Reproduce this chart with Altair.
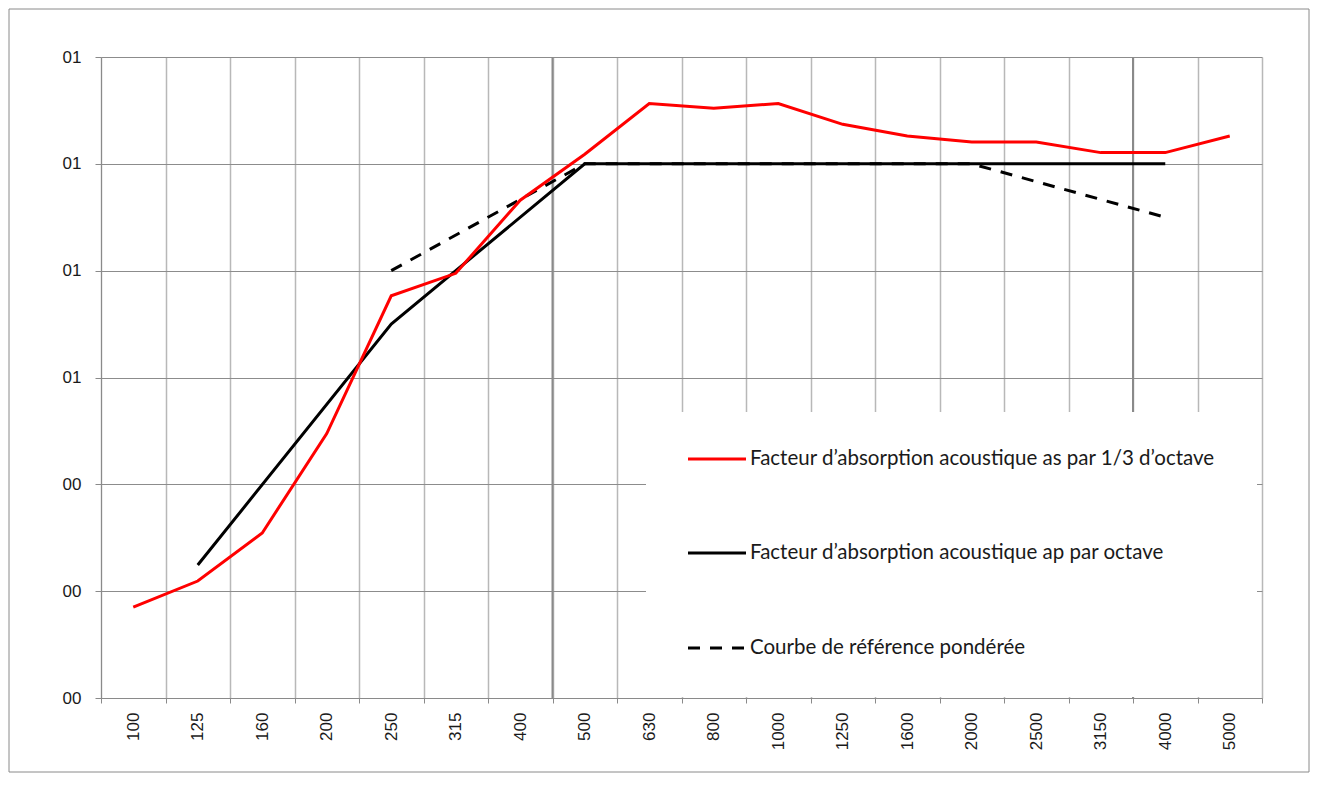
import altair as alt
import pandas as pd

# ---- data ----
freqs = ["100", "125", "160", "200", "250", "315", "400", "500", "630",
         "800", "1000", "1250", "1600", "2000", "2500", "3150", "4000", "5000"]
alpha_s = [0.170, 0.219, 0.309, 0.495, 0.753, 0.795, 0.932, 1.018, 1.113,
           1.104, 1.113, 1.074, 1.052, 1.041, 1.041, 1.021, 1.021, 1.052]
oct_freqs = ["125", "250", "500", "1000", "2000", "4000"]
alpha_p = [0.249, 0.700, 1.0, 1.0, 1.0, 1.0]
ref_freqs = ["250", "500", "1000", "2000", "4000"]
ref_vals = [0.8, 1.0, 1.0, 1.0, 0.9]
y_ticks = [0, 0.2, 0.4, 0.6, 0.8, 1.0, 1.2]
emph_freqs = ["500", "4000"]
legend_labels = [
    "Facteur d\u2019absorption acoustique as par 1/3 d\u2019octave",
    "Facteur d\u2019absorption acoustique ap par octave",
    "Courbe de r\u00e9f\u00e9rence pond\u00e9r\u00e9e",
]

df_s = pd.DataFrame({"freq": freqs, "v": alpha_s})
df_p = pd.DataFrame({"freq": oct_freqs, "v": alpha_p})
df_r = pd.DataFrame({"freq": ref_freqs, "v": ref_vals})
df_e = pd.DataFrame({"freq": emph_freqs})

W, H = 1161, 641
AXIS_FONT = "Liberation Sans"
LEG_FONT = "Lato"

xscale = alt.Scale(type="band", domain=freqs, paddingInner=0, paddingOuter=0)
yscale = alt.Scale(domain=[0, 1.2], nice=False, zero=True)

x_axis = alt.Axis(title=None, tickBand="extent", labelAngle=270,
                  labelFont=AXIS_FONT, labelFontSize=17, labelColor="#1a1a1a",
                  labelPadding=9, tickSize=5, tickColor="#8a8a8a",
                  domainColor="#8a8a8a", grid=True, gridColor="#b8b8b8",
                  gridWidth=1.5)
y_axis = alt.Axis(title=None, values=y_ticks, format="02.0f",
                  labelFont=AXIS_FONT, labelFontSize=17, labelColor="#1a1a1a",
                  labelPadding=14, tickSize=6, tickColor="#8a8a8a",
                  domainColor="#8a8a8a", grid=True, gridColor="#8c8c8c",
                  gridWidth=1)


def X(band=0.5):
    return alt.X("freq:N", scale=xscale, axis=x_axis, bandPosition=band)


def Y():
    return alt.Y("v:Q", scale=yscale, axis=y_axis)


one = alt.Data(values=[{}])

emph = alt.Chart(df_e).mark_rule(color="#8a8a8a", strokeWidth=2).encode(
    x=X(0), y=alt.value(0), y2=alt.value(H))

box = alt.Chart(one).mark_rect(fill="white").encode(
    x=alt.value(545), x2=alt.value(1156), y=alt.value(355), y2=alt.value(640))

ref = alt.Chart(df_r).mark_line(color="black", strokeWidth=3,
                                strokeDash=[12, 10]).encode(x=X(), y=Y())
octv = alt.Chart(df_p).mark_line(color="black", strokeWidth=3).encode(x=X(), y=Y())
third = alt.Chart(df_s).mark_line(color="#ff0000", strokeWidth=3).encode(x=X(), y=Y())

leg_y = [402, 496, 591]
leg_layers = []
leg_styles = [dict(color="#ff0000"), dict(color="black"),
              dict(color="black", strokeDash=[12, 10])]
for ly, lab, st in zip(leg_y, legend_labels, leg_styles):
    leg_layers.append(
        alt.Chart(one).mark_rule(strokeWidth=3, **st).encode(
            x=alt.value(587), x2=alt.value(645), y=alt.value(ly)))
    leg_layers.append(
        alt.Chart(one).mark_text(align="left", baseline="middle", font=LEG_FONT,
                                 fontSize=20.5, color="#1a1a1a").encode(
            x=alt.value(649), y=alt.value(ly), text=alt.value(lab)))

border = alt.Chart(one).mark_rect(fill=None, stroke="#8a8a8a", strokeWidth=1).encode(
    x=alt.value(-92), x2=alt.value(1208), y=alt.value(-48), y2=alt.value(715))

chart = alt.layer(emph, box, ref, octv, third, *leg_layers, border).properties(
    width=W, height=H,
    autosize=alt.AutoSizeParams(type="none"),
    padding={"left": 93, "top": 49, "right": 48, "bottom": 75},
    background="white",
).configure_view(stroke=None)

chart.save("out.html", embed_options={"renderer": "svg", "actions": False})
